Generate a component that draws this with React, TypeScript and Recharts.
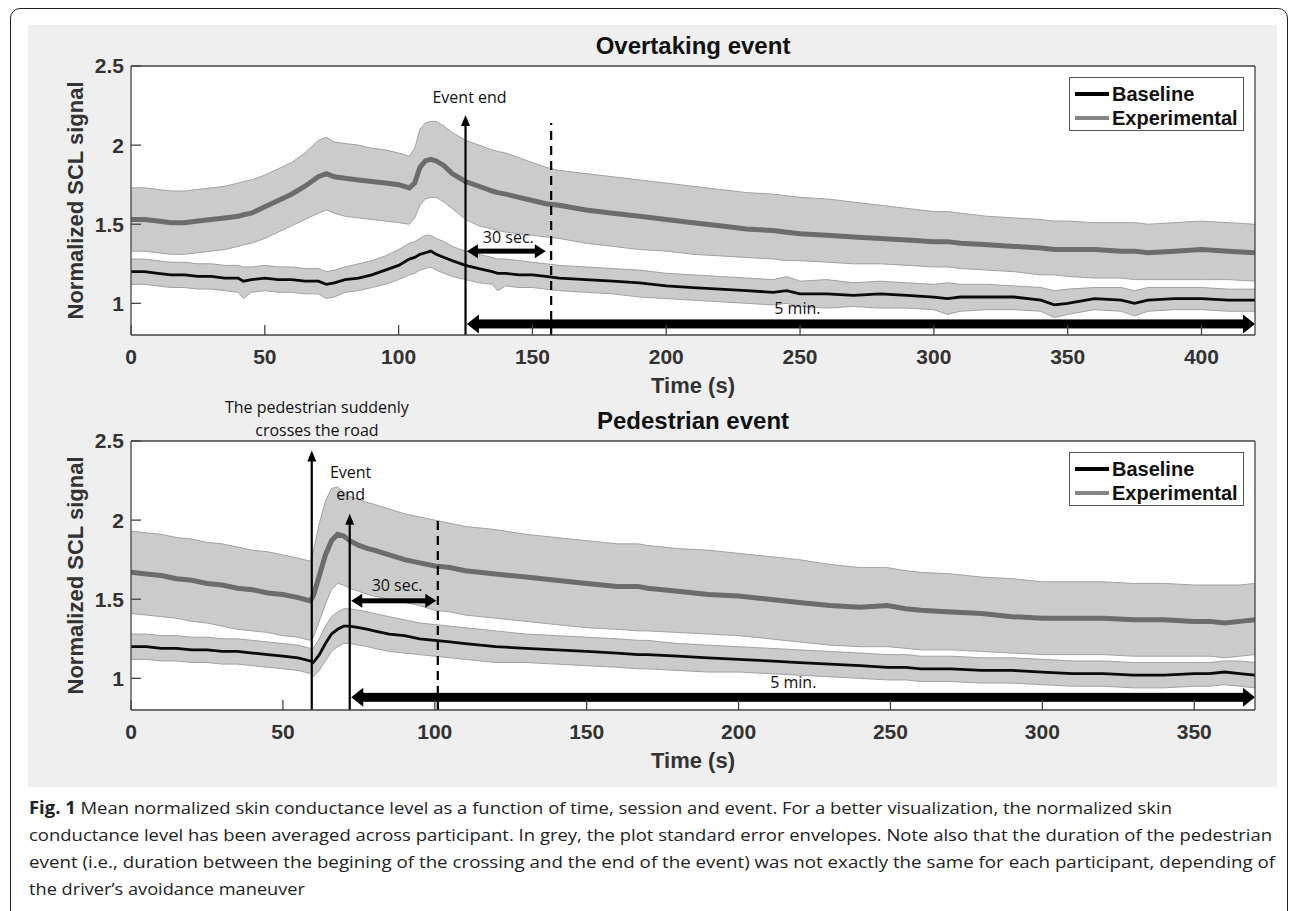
import React from 'react';
import {
  ComposedChart,
  Area,
  Line,
  XAxis,
  YAxis,
  ReferenceLine,
  ReferenceDot,
  Legend,
  CartesianGrid,
} from 'recharts';

// ---------------- DATA ----------------
const seriesNames = ['Baseline', 'Experimental'];
const yTicks = [1, 1.5, 2, 2.5];

// Overtaking event
const overTitle = 'Overtaking event';
const overXMax = 420;
const overXTicks = [0, 50, 100, 150, 200, 250, 300, 350, 400];
const overTimes = [
  0, 5, 10, 15, 20, 25, 30, 35, 40, 42,
  45, 50, 55, 60, 65, 70, 73, 76, 80, 85,
  90, 95, 100, 104, 106, 108, 110, 112, 114, 117,
  120, 125, 130, 135, 137, 140, 145, 150, 155, 160,
  170, 180, 190, 200, 210, 220, 230, 240, 245, 250,
  260, 270, 280, 290, 300, 305, 310, 320, 330, 340,
  345, 350, 360, 370, 375, 380, 390, 400, 410, 420,
];
const overExpMean = [
  1.53, 1.53, 1.52, 1.51, 1.51, 1.52, 1.53, 1.54, 1.55, 1.56,
  1.57, 1.61, 1.65, 1.69, 1.74, 1.80, 1.82, 1.80, 1.79, 1.78,
  1.77, 1.76, 1.75, 1.73, 1.76, 1.86, 1.90, 1.91, 1.90, 1.87,
  1.82, 1.77, 1.74, 1.71, 1.70, 1.69, 1.67, 1.65, 1.63, 1.62,
  1.59, 1.57, 1.55, 1.53, 1.51, 1.49, 1.47, 1.46, 1.45, 1.44,
  1.43, 1.42, 1.41, 1.40, 1.39, 1.39, 1.38, 1.37, 1.36, 1.35,
  1.34, 1.34, 1.34, 1.33, 1.33, 1.32, 1.33, 1.34, 1.33, 1.32,
];
const overExpHi = [
  1.73, 1.73, 1.72, 1.71, 1.71, 1.72, 1.73, 1.74, 1.76, 1.77,
  1.78, 1.81, 1.85, 1.89, 1.95, 2.03, 2.05, 2.02, 2.01, 2.00,
  1.98, 1.97, 1.95, 1.93, 1.98, 2.10, 2.14, 2.15, 2.15, 2.12,
  2.08, 2.03, 2.00, 1.97, 1.96, 1.95, 1.92, 1.89, 1.86, 1.84,
  1.82, 1.80, 1.78, 1.76, 1.74, 1.72, 1.70, 1.69, 1.68, 1.67,
  1.66, 1.64, 1.62, 1.60, 1.58, 1.58, 1.57, 1.55, 1.54, 1.53,
  1.52, 1.52, 1.51, 1.51, 1.51, 1.50, 1.51, 1.52, 1.51, 1.50,
];
const overExpLo = [
  1.33, 1.33, 1.32, 1.31, 1.31, 1.32, 1.33, 1.34, 1.36, 1.37,
  1.38, 1.41, 1.45, 1.49, 1.53, 1.57, 1.59, 1.57, 1.55, 1.54,
  1.53, 1.52, 1.51, 1.50, 1.54, 1.62, 1.66, 1.67, 1.67, 1.64,
  1.60, 1.53, 1.49, 1.47, 1.46, 1.45, 1.44, 1.43, 1.42, 1.41,
  1.38, 1.36, 1.34, 1.33, 1.31, 1.30, 1.29, 1.28, 1.27, 1.27,
  1.26, 1.25, 1.25, 1.24, 1.23, 1.23, 1.22, 1.21, 1.20, 1.18,
  1.18, 1.17, 1.16, 1.16, 1.15, 1.15, 1.15, 1.15, 1.15, 1.14,
];
const overBaseMean = [
  1.20, 1.20, 1.19, 1.18, 1.18, 1.17, 1.17, 1.16, 1.16, 1.14,
  1.15, 1.16, 1.15, 1.15, 1.14, 1.14, 1.12, 1.13, 1.15, 1.16,
  1.18, 1.21, 1.24, 1.28, 1.29, 1.31, 1.32, 1.33, 1.31, 1.29,
  1.27, 1.24, 1.22, 1.20, 1.19, 1.19, 1.18, 1.18, 1.17, 1.16,
  1.15, 1.14, 1.13, 1.11, 1.10, 1.09, 1.08, 1.07, 1.08, 1.06,
  1.06, 1.05, 1.06, 1.05, 1.04, 1.03, 1.04, 1.04, 1.04, 1.02,
  0.99, 1.00, 1.03, 1.02, 1.00, 1.02, 1.03, 1.03, 1.02, 1.02,
];
const overBaseHi = [
  1.28, 1.28, 1.27, 1.26, 1.26, 1.25, 1.25, 1.24, 1.24, 1.23,
  1.23, 1.24, 1.23, 1.23, 1.22, 1.22, 1.20, 1.21, 1.23, 1.25,
  1.27, 1.30, 1.34, 1.38, 1.39, 1.41, 1.43, 1.43, 1.41, 1.39,
  1.36, 1.33, 1.31, 1.29, 1.28, 1.28, 1.27, 1.26, 1.25, 1.24,
  1.23, 1.22, 1.21, 1.19, 1.18, 1.17, 1.16, 1.15, 1.17, 1.14,
  1.15, 1.13, 1.14, 1.13, 1.12, 1.13, 1.12, 1.12, 1.11, 1.10,
  1.08, 1.09, 1.10, 1.10, 1.08, 1.10, 1.10, 1.10, 1.09, 1.09,
];
const overBaseLo = [
  1.12, 1.12, 1.11, 1.10, 1.10, 1.09, 1.09, 1.08, 1.07, 1.03,
  1.07, 1.08, 1.07, 1.07, 1.06, 1.06, 1.03, 1.04, 1.07, 1.08,
  1.10, 1.12, 1.15, 1.18, 1.19, 1.21, 1.22, 1.23, 1.21, 1.19,
  1.17, 1.15, 1.13, 1.12, 1.08, 1.11, 1.10, 1.10, 1.09, 1.08,
  1.07, 1.06, 1.04, 1.03, 1.02, 1.01, 1.00, 0.99, 1.00, 0.98,
  0.97, 0.98, 0.97, 0.97, 0.96, 0.93, 0.95, 0.96, 0.96, 0.95,
  0.91, 0.93, 0.96, 0.95, 0.92, 0.95, 0.96, 0.96, 0.95, 0.95,
];
const overEvents = [{ t: 125, top: 2.19 }];
const overDashed = [{ t: 157, top: 2.14 }];
const overSpans = [
  { from: 125.5, to: 155, y: 1.33, kind: 'thin' },
  { from: 125.5, to: 420, y: 0.87, kind: 'thick' },
];
const overNotes = [
  { t: 126.5, v: 2.3, text: 'Event end' },
  { t: 141, v: 1.42, text: '30 sec.' },
  { t: 249, v: 0.97, text: '5 min.' },
];

// Pedestrian event
const pedTitle = 'Pedestrian event';
const pedXMax = 370;
const pedXTicks = [0, 50, 100, 150, 200, 250, 300, 350];
const pedTimes = [
  0, 5, 10, 15, 20, 25, 30, 35, 40, 45,
  50, 55, 59, 60, 62, 64, 66, 68, 70, 72,
  75, 78, 80, 85, 90, 95, 100, 105, 110, 120,
  130, 140, 150, 160, 167, 170, 180, 190, 200, 210,
  220, 230, 240, 249, 255, 260, 270, 280, 290, 300,
  310, 320, 330, 340, 350, 355, 360, 365, 370,
];
const pedExpMean = [
  1.67, 1.66, 1.65, 1.63, 1.62, 1.60, 1.59, 1.57, 1.56, 1.54,
  1.53, 1.51, 1.49, 1.52, 1.65, 1.78, 1.87, 1.91, 1.90, 1.87,
  1.84, 1.82, 1.81, 1.78, 1.75, 1.73, 1.71, 1.70, 1.68, 1.66,
  1.64, 1.62, 1.60, 1.58, 1.58, 1.57, 1.55, 1.53, 1.52, 1.50,
  1.48, 1.46, 1.45, 1.46, 1.44, 1.43, 1.42, 1.41, 1.39, 1.38,
  1.38, 1.38, 1.37, 1.37, 1.36, 1.36, 1.35, 1.36, 1.37,
];
const pedExpHi = [
  1.93, 1.92, 1.91, 1.89, 1.88, 1.86, 1.85, 1.83, 1.81, 1.80,
  1.78, 1.76, 1.74, 1.80, 1.98, 2.12, 2.20, 2.21, 2.18, 2.15,
  2.13, 2.11, 2.10, 2.07, 2.04, 2.02, 2.00, 1.98, 1.96, 1.94,
  1.91, 1.89, 1.87, 1.85, 1.85, 1.84, 1.82, 1.81, 1.79, 1.77,
  1.75, 1.72, 1.70, 1.70, 1.68, 1.67, 1.66, 1.64, 1.63, 1.61,
  1.61, 1.61, 1.60, 1.60, 1.59, 1.59, 1.59, 1.59, 1.60,
];
const pedExpLo = [
  1.41, 1.40, 1.39, 1.38, 1.36, 1.35, 1.33, 1.31, 1.30, 1.29,
  1.27, 1.26, 1.24, 1.26, 1.36, 1.47, 1.56, 1.60, 1.59, 1.57,
  1.55, 1.53, 1.52, 1.50, 1.48, 1.46, 1.43, 1.42, 1.40, 1.38,
  1.36, 1.34, 1.32, 1.31, 1.30, 1.30, 1.29, 1.28, 1.27, 1.25,
  1.23, 1.21, 1.20, 1.20, 1.19, 1.18, 1.18, 1.17, 1.16, 1.15,
  1.15, 1.15, 1.14, 1.14, 1.14, 1.14, 1.13, 1.14, 1.15,
];
const pedBaseMean = [
  1.20, 1.20, 1.19, 1.19, 1.18, 1.18, 1.17, 1.17, 1.16, 1.15,
  1.14, 1.13, 1.11, 1.10, 1.15, 1.22, 1.28, 1.31, 1.33, 1.33,
  1.32, 1.31, 1.30, 1.28, 1.27, 1.25, 1.24, 1.23, 1.22, 1.20,
  1.19, 1.18, 1.17, 1.16, 1.15, 1.15, 1.14, 1.13, 1.12, 1.11,
  1.10, 1.09, 1.08, 1.07, 1.07, 1.06, 1.06, 1.05, 1.05, 1.04,
  1.03, 1.03, 1.02, 1.02, 1.03, 1.03, 1.04, 1.03, 1.02,
];
const pedBaseHi = [
  1.28, 1.28, 1.27, 1.27, 1.26, 1.26, 1.25, 1.25, 1.24, 1.23,
  1.22, 1.21, 1.19, 1.19, 1.25, 1.33, 1.39, 1.42, 1.44, 1.44,
  1.43, 1.42, 1.41, 1.39, 1.37, 1.35, 1.34, 1.33, 1.32, 1.30,
  1.28, 1.27, 1.26, 1.25, 1.24, 1.24, 1.22, 1.21, 1.20, 1.19,
  1.18, 1.17, 1.16, 1.15, 1.15, 1.14, 1.14, 1.13, 1.13, 1.12,
  1.11, 1.11, 1.10, 1.10, 1.10, 1.10, 1.11, 1.11, 1.10,
];
const pedBaseLo = [
  1.12, 1.12, 1.11, 1.11, 1.10, 1.10, 1.09, 1.09, 1.08, 1.07,
  1.06, 1.05, 1.03, 1.01, 1.05, 1.11, 1.17, 1.20, 1.22, 1.22,
  1.21, 1.20, 1.19, 1.17, 1.16, 1.15, 1.14, 1.13, 1.12, 1.10,
  1.10, 1.09, 1.08, 1.07, 1.06, 1.06, 1.05, 1.04, 1.04, 1.03,
  1.02, 1.01, 1.00, 0.99, 0.99, 0.98, 0.98, 0.97, 0.97, 0.96,
  0.95, 0.95, 0.94, 0.94, 0.95, 0.95, 0.96, 0.95, 0.94,
];
const pedEvents = [
  { t: 59.5, top: 2.44 },
  { t: 72, top: 2.04 },
];
const pedDashed = [{ t: 101, top: 2.02 }];
const pedSpans = [
  { from: 72.5, to: 100.5, y: 1.49, kind: 'thin' },
  { from: 72.5, to: 370, y: 0.88, kind: 'thick' },
];
const pedNotes = [
  { t: 61.2, v: 2.715, text: 'The pedestrian suddenly' },
  { t: 61.2, v: 2.57, text: 'crosses the road' },
  { t: 72.3, v: 2.3, text: 'Event' },
  { t: 72.3, v: 2.16, text: 'end' },
  { t: 87.6, v: 1.59, text: '30 sec.' },
  { t: 218, v: 0.977, text: '5 min.' },
];

const captionLead = 'Fig. 1';
const captionLines = [
  ' Mean normalized skin conductance level as a function of time, session and event. For a better visualization, the normalized skin',
  'conductance level has been averaged across participant. In grey, the plot standard error envelopes. Note also that the duration of the pedestrian',
  'event (i.e., duration between the begining of the crossing and the end of the event) was not exactly the same for each participant, depending of',
  'the driver\u2019s avoidance maneuver',
];

// ---------------- STYLE / LAYOUT ----------------
const AXIS_FONT = '"Liberation Sans", Arial, Helvetica, sans-serif';
const NOTE_FONT = '"Open Sans", "Noto Sans", sans-serif';
const BAND_FILL = '#cbcbcb';
const BAND_EDGE = '#a2a2a2';
const EXP_COLOR = '#6c6c6c';
const BASE_COLOR = '#0a0a0a';
const AXIS_COLOR = '#454545';

const captionWidths = [1143, 1243, 1246, 276];
const captionBaselines = [19, 46, 73, 100];

function buildRows(times: number[], bM: number[], bL: number[], bH: number[], eM: number[], eL: number[], eH: number[]) {
  return times.map((t, i) => ({
    t,
    base: bM[i],
    baseBand: [bL[i], bH[i]],
    exp: eM[i],
    expBand: [eL[i], eH[i]],
  }));
}

const overRows = buildRows(overTimes, overBaseMean, overBaseLo, overBaseHi, overExpMean, overExpLo, overExpHi);
const pedRows = buildRows(pedTimes, pedBaseMean, pedBaseLo, pedBaseHi, pedExpMean, pedExpLo, pedExpHi);

// ---------------- SHAPES ----------------
const VArrow = (p: any) => {
  const x = p.x1;
  const yb = Math.max(p.y1, p.y2);
  const yt = Math.min(p.y1, p.y2);
  return (
    <g>
      <line x1={x} x2={x} y1={yb} y2={yt + 8} stroke="#000" strokeWidth={2.2} />
      <polygon points={`${x - 4.5},${yt + 11} ${x + 4.5},${yt + 11} ${x},${yt}`} fill="#000" />
    </g>
  );
};

const DashedLine = (p: any) => (
  <line x1={p.x1} x2={p.x2} y1={p.y1} y2={p.y2} stroke="#000" strokeWidth={2.2} strokeDasharray="9 6" />
);

const makeDoubleArrow = (shaft: number, headLen: number, headHalf: number) => (p: any) => {
  const xa = Math.min(p.x1, p.x2);
  const xb = Math.max(p.x1, p.x2);
  const y = p.y1;
  return (
    <g>
      <rect x={xa + headLen - 1} y={y - shaft / 2} width={Math.max(0, xb - xa - 2 * headLen + 2)} height={shaft} fill="#000" />
      <polygon points={`${xa},${y} ${xa + headLen},${y - headHalf} ${xa + headLen},${y + headHalf}`} fill="#000" />
      <polygon points={`${xb},${y} ${xb - headLen},${y - headHalf} ${xb - headLen},${y + headHalf}`} fill="#000" />
    </g>
  );
};
const ThinSpan = makeDoubleArrow(5, 11, 7);
const ThickSpan = makeDoubleArrow(9, 12, 9.5);

const NoDot = () => <g />;

const renderLegend = (props: any) => {
  const items = (props.payload || []).filter((e: any) => e.type !== 'none');
  return (
    <div
      style={{
        width: 175,
        height: 54,
        boxSizing: 'border-box',
        border: '1.3px solid #555',
        background: '#fff',
        padding: '4px 0 0 5px',
      }}
    >
      {items.map((e: any) => (
        <div key={e.value} style={{ display: 'flex', alignItems: 'center', height: 24 }}>
          <span
            style={{
              display: 'inline-block',
              width: 34,
              height: e.value === seriesNames[0] ? 3.5 : 4.5,
              background: e.value === seriesNames[0] ? '#000' : '#858585',
              marginRight: 3,
            }}
          />
          <span style={{ font: `bold 20px ${AXIS_FONT}`, color: '#111', lineHeight: '24px' }}>{e.value}</span>
        </div>
      ))}
    </div>
  );
};

function Panel(props: any) {
  const { top, title, rows, xMax, xTicks, events, dashed, spans, notes } = props;
  const tickStyle = { fill: '#333', fontSize: 21, fontWeight: 'bold', fontFamily: AXIS_FONT };
  const lineStyle = { stroke: AXIS_COLOR, strokeWidth: 1.3 };
  return (
    <div style={{ position: 'absolute', left: 0, top, width: 1290, height: 400 }}>
      <ComposedChart width={1290} height={400} data={rows} margin={{ top: 65, right: 34, bottom: 25, left: 71 }}>
        <CartesianGrid fill="#ffffff" stroke="none" horizontal={false} vertical={false} />
        <XAxis
          dataKey="t"
          type="number"
          domain={[0, xMax]}
          ticks={xTicks}
          interval={0}
          allowDataOverflow
          height={40}
          tickSize={-10}
          tickMargin={24}
          tick={tickStyle}
          axisLine={lineStyle}
          tickLine={lineStyle}
          label={{ value: 'Time (s)', position: 'bottom', offset: 2, fill: '#333', fontSize: 22, fontWeight: 'bold', fontFamily: AXIS_FONT }}
        />
        <XAxis
          xAxisId="top"
          orientation="top"
          dataKey="t"
          type="number"
          domain={[0, xMax]}
          ticks={xTicks}
          interval={0}
          allowDataOverflow
          height={1}
          tickSize={-10}
          tick={false}
          axisLine={lineStyle}
          tickLine={lineStyle}
          label={{ value: title, position: 'top', offset: 11, fill: '#111', fontSize: 24, fontWeight: 'bold', fontFamily: AXIS_FONT }}
        />
        <YAxis
          type="number"
          domain={[0.8, 2.5]}
          ticks={yTicks}
          interval={0}
          allowDataOverflow
          width={60}
          tickSize={-10}
          tickMargin={17}
          tickFormatter={(v: number) => String(v)}
          tick={tickStyle}
          axisLine={lineStyle}
          tickLine={lineStyle}
          label={{
            value: 'Normalized SCL signal',
            angle: -90,
            position: 'insideLeft',
            offset: 4,
            style: { textAnchor: 'middle' },
            fill: '#333',
            fontSize: 22,
            fontWeight: 'bold',
            fontFamily: AXIS_FONT,
          }}
        />
        <YAxis
          yAxisId="right"
          orientation="right"
          type="number"
          domain={[0.8, 2.5]}
          ticks={yTicks}
          interval={0}
          allowDataOverflow
          width={1}
          tickSize={-10}
          tick={false}
          axisLine={lineStyle}
          tickLine={lineStyle}
        />
        <Area
          dataKey="expBand"
          type="linear"
          fill={BAND_FILL}
          fillOpacity={1}
          stroke={BAND_EDGE}
          strokeWidth={1}
          legendType="none"
          isAnimationActive={false}
          dot={false}
          activeDot={false}
        />
        <Area
          dataKey="baseBand"
          type="linear"
          fill={BAND_FILL}
          fillOpacity={1}
          stroke={BAND_EDGE}
          strokeWidth={1}
          legendType="none"
          isAnimationActive={false}
          dot={false}
          activeDot={false}
        />
        <Line
          dataKey="base"
          name={seriesNames[0]}
          type="linear"
          stroke={BASE_COLOR}
          strokeWidth={2.8}
          dot={false}
          activeDot={false}
          isAnimationActive={false}
        />
        <Line
          dataKey="exp"
          name={seriesNames[1]}
          type="linear"
          stroke={EXP_COLOR}
          strokeWidth={5}
          dot={false}
          activeDot={false}
          isAnimationActive={false}
        />
        {dashed.map((d: any, i: number) => (
          <ReferenceLine
            key={'d' + i}
            segment={[{ x: d.t, y: 0.8 }, { x: d.t, y: d.top }]}
            shape={DashedLine}
            ifOverflow="visible"
          />
        ))}
        {events.map((e: any, i: number) => (
          <ReferenceLine
            key={'e' + i}
            segment={[{ x: e.t, y: 0.8 }, { x: e.t, y: e.top }]}
            shape={VArrow}
            ifOverflow="visible"
          />
        ))}
        {spans.map((s: any, i: number) => (
          <ReferenceLine
            key={'s' + i}
            segment={[{ x: s.from, y: s.y }, { x: s.to, y: s.y }]}
            shape={s.kind === 'thick' ? ThickSpan : ThinSpan}
            ifOverflow="visible"
          />
        ))}
        {notes.map((n: any, i: number) => (
          <ReferenceDot
            key={'n' + i}
            x={n.t}
            y={n.v}
            r={0}
            ifOverflow="visible"
            shape={NoDot}
            label={{ value: n.text, position: 'center', fill: '#111', fontSize: 16, fontFamily: NOTE_FONT }}
          />
        ))}
        <Legend
          layout="vertical"
          align="center"
          verticalAlign="middle"
          content={renderLegend}
          wrapperStyle={{ position: 'absolute', left: 1069, top: 77, width: 175, height: 54 }}
        />
      </ComposedChart>
    </div>
  );
}

export default function App() {
  return (
    <div
      style={{
        position: 'absolute',
        left: 0,
        top: 0,
        width: 1290,
        height: 911,
        background: '#ffffff',
        overflow: 'hidden',
      }}
    >
      <div
        style={{
          position: 'absolute',
          left: 10,
          top: 8,
          width: 1278,
          height: 940,
          border: '1.6px solid #222',
          borderRadius: 10,
          boxSizing: 'border-box',
        }}
      />
      <div style={{ position: 'absolute', left: 28, top: 25, width: 1249, height: 762, background: '#efefef' }} />
      <Panel
        top={0}
        title={overTitle}
        rows={overRows}
        xMax={overXMax}
        xTicks={overXTicks}
        events={overEvents}
        dashed={overDashed}
        spans={overSpans}
        notes={overNotes}
      />
      <Panel
        top={375}
        title={pedTitle}
        rows={pedRows}
        xMax={pedXMax}
        xTicks={pedXTicks}
        events={pedEvents}
        dashed={pedDashed}
        spans={pedSpans}
        notes={pedNotes}
      />
      <svg style={{ position: 'absolute', left: 0, top: 795 }} width={1290} height={116}>
        {captionLines.map((ln, i) => (
          <text
            key={i}
            x={29}
            y={captionBaselines[i]}
            textLength={captionWidths[i]}
            lengthAdjust="spacingAndGlyphs"
            fontFamily={NOTE_FONT}
            fontSize={17}
            fill="#222"
          >
            {i === 0 ? <tspan fontWeight="bold">{captionLead}</tspan> : null}
            {ln}
          </text>
        ))}
      </svg>
    </div>
  );
}
